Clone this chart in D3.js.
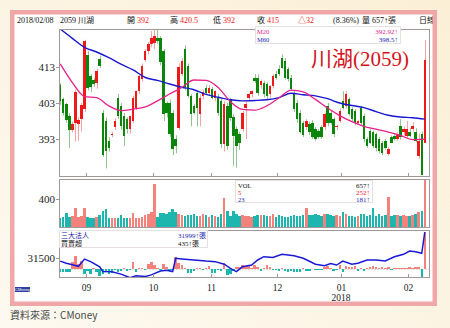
<!DOCTYPE html>
<html>
<head>
<meta charset="utf-8">
<script src="https://cdn.jsdelivr.net/npm/d3@7"></script>
<style>
  body { margin: 0; background: #fcf6e8; }
  svg { display: block; }
</style>
</head>
<body>
<svg id="chart" width="450" height="328"></svg>
<script>
(function () {

  // month labels on the x axis and the candle index where each month starts
  const monthLabels = ["09", "10", "11", "12", "01", "02"];
  const monthStart = [9, 31, 50, 72, 93, 115];
  const priceTicks = [393, 403, 413];
  const volTicks = [400];
  const chipTicks = [31500];

  // daily candles, 2017/08/21 .. 2018/02/08
  const opens = [408,404,402.8,399.5,395.5,397.4,397.2,398.5,401.3,
    416.5,410.5,409.5,408.6,415.3,400.3,398,392.4,394,396.2,
    404.5,402.2,399.4,398.5,395.7,398,401.7,406.3,409.6,415.1,
    417.4,419.3,419.8,421.2,421,417.4,403,403,400.3,393,
    396,411,418,413.3,405,402.2,405.9,399.9,405,407.3,
    405.9,406.8,404.5,404.5,403.6,391.5,402.2,404,399.2,395.7,
    394.3,395.7,401.7,404.5,405.4,410,410,408,408.6,408.2,
    405.4,407.7,411,412.4,415.6,414.7,412.4,410,405.9,403.1,
    400.3,397.5,396.2,397.1,397.5,395.7,395.2,396.2,396.2,402.2,
    400.3,398.5,396.2,398,403.6,402.2,404,401.3,400.8,397.5,
    401.7,399.4,392.9,395.2,394.8,394.3,392.9,392,392.5,388.8,
    393.4,393.8,393,396.6,394.8,393.8,395,395.7,394.8,388.3,394.3,392];
  const highs = [408.5,404.5,403,400.2,397.8,406.8,399,403,420.6,
    417.5,411,410,412.5,416.2,401,399,393.5,395,398.8,
    405.5,403,400.2,399,399.5,405,406.5,410.8,414,418,
    420,423,423.3,423.5,421.6,418,403.5,404,401,394,
    414,415.5,419,414,405.5,402.8,406.5,405.4,406.8,408,
    408,407.5,406.5,405.5,404.5,403.5,403,404.5,400,396.5,
    395,400.8,403.5,405.7,406.5,411,411,409.5,409.2,408.8,
    408,411,412,413.5,416.5,415.5,413,410.8,406.5,403.8,
    401,398,398.5,397.8,398.2,396.3,395.8,396.8,400.3,403,
    401,399,397,401.5,406.3,406.3,404.6,401.8,401.3,398.2,
    402.2,400,393.5,395.8,395.3,394.8,393.5,392.5,393,390.8,
    394,394.5,394.8,398.5,396.5,398,396,397.6,396,394.5,395,420.5];
  const lows = [402.5,399.5,397.5,390.5,394.8,392.3,392.5,395,400.5,
    406.5,406,407.5,407,412.8,388,384.8,389.5,393.5,395.5,
    398.5,395.5,391,394.5,394.5,397.5,401,405.5,409,414.5,
    416.5,418.5,418,419.5,413.5,398,399,393.5,388.5,389,
    395.5,410.5,406.5,404.5,396.5,399.8,396.5,396.5,404,405.5,
    405,404,403.5,399.5,390.5,389.5,390,398,385.5,385,
    390,395,393,403.5,404.5,408.5,405,407,404.5,404,
    404.5,407,409.5,410.5,412.5,409.5,409,406.5,400.5,397.5,
    394.5,393.5,395.5,394,393,392.5,393,393,395.5,396.5,
    397,393.5,395.5,397.5,401.2,401.5,399.5,397.8,396.8,397,
    396.8,392,390.5,391.5,390.5,389.5,389,388.5,390,388.3,
    392,392.5,392.5,392.8,394,393,393.5,395,392,387.5,383,392];
  const closes = [403.5,400.3,398.3,395.5,397.2,406.1,398.2,402.4,420.2,
    407.3,407.5,408.2,411.9,413.3,388.5,389.5,390.5,394.3,398,
    399.4,396.6,393.8,395.7,399.4,404.5,406.3,410.5,413.3,417.4,
    419.3,421.2,421.6,420.2,414.5,400,400.3,394.3,390.1,391,
    413.1,414.7,407.5,405,400,400.3,401.7,404.5,406,405.9,
    407.3,404.5,406.3,400.3,391.5,402.6,391,398.7,393.8,391.1,
    392,400.3,402.6,405.4,406.3,409.1,405.9,409.1,405.4,404.9,
    407.7,410.5,410,411,412.8,410,409.6,406.8,401.2,398.5,
    394.8,394,398,394.8,393.4,392.9,393.4,393.4,399.9,397.5,
    397.5,394.3,396.6,400.8,401.7,405.4,399.9,398.5,397.5,397.9,
    397.5,392.9,391.1,392,391.1,390.6,389.7,389.2,390.6,390.3,
    392,392.9,394.3,393.4,395.7,395.7,393.8,396.6,392.5,392.5,383,415];

  // daily volume (lots)
  const volumes = [143,150,212,156,160,271,156,160,281,
    156,143,143,150,175,235,262,133,133,133,
    140,185,133,133,133,212,133,143,156,175,
    189,225,603,156,212,212,189,216,262,225,
    189,179,160,179,179,189,160,170,189,179,
    156,179,160,150,200,419,240,170,230,200,
    160,180,160,170,150,165,175,185,175,160,
    170,200,150,180,165,155,150,170,180,170,
    160,175,280,180,175,200,175,165,200,190,
    180,160,175,170,220,190,170,165,150,160,
    190,200,165,175,280,170,190,160,180,430,
    165,175,180,160,175,170,160,175,200,220,240,657];

  // moving averages (candle index, price)
  const maIdx = [0,4,8,12,16,20,24,28,32,36,40,44,48,52,56,60,64,68,72,76,80,84,88,92,96,100,104,108,112,116,120];
  const ma20 = [413.9,408.7,404.8,404.5,402.2,400.9,401.3,401.9,403.6,405.5,407.3,409.4,409.3,407.3,403.4,401.2,
    401.0,402.2,404.4,406.6,406.1,404.0,401.6,399.5,397.8,396.5,395.7,394.9,394.0,392.8,392.92];
  const ma60 = [423.6,421,418.5,417.2,415.6,413.8,412.2,410.1,409.3,408.3,407.4,406.7,405.4,404.6,403.9,403.6,
    403.7,403.9,404.5,405.7,405.3,405.0,404.2,403.0,402.3,401.7,400.6,399.6,399.1,398.9,398.5];

  // three institutional investors: holdings line (lots) and daily net buy/sell
  const chipIdx = [0,2,4,6,8,10,13,14,17,20,23,25,28,30,33,35,37,38,40,44,48,51,54,56,58,60,63,65,67,70,
    73,77,80,84,87,89,91,93,96,98,101,104,107,110,113,115,117,119,120];
  const chipHold = [31440,31400,31370,31340,31480,31430,31330,31240,31237,31190,31120,31160,31145,31175,31250,
    31265,31240,31494,31483,31460,31440,31430,31380,31300,31237,31333,31365,31462,31525,31510,
    31571,31544,31494,31379,31350,31394,31365,31442,31379,31398,31462,31462,31442,31525,31571,31635,31621,31590,31999];
  const netBuy = [-35,-35,-30,-35,90,150,60,100,-60,
    -20,-50,10,-30,-80,-60,-20,-60,-40,-10,
    -30,-15,10,-20,-10,80,-30,15,20,-10,
    60,90,50,20,-10,60,30,-20,-10,140,
    70,50,20,-40,-45,-20,10,15,-10,20,
    40,-45,-40,-10,-15,70,-65,-60,-20,30,
    30,50,40,50,20,50,30,-25,15,55,
    30,-10,-5,-25,20,-20,-30,-25,-30,-35,
    -30,10,-20,-20,5,-10,-5,-10,30,40,
    10,-25,-10,55,-30,35,30,25,35,-20,
    10,-25,10,30,35,30,20,25,20,25,
    -10,15,20,20,15,20,25,10,30,25,-95,435];

  const serif = "'Liberation Serif','Noto Sans CJK TC',serif";
  const red = "#ee1a1a", green = "#0b860b";
  const upBar = "#f4827c", downBar = "#1cb6ae";
  const border = "#a39797";

  const svg = d3.select("#chart");

  // background + pink frame
  const defs = svg.append("defs");
  const grad = defs.append("linearGradient").attr("id", "bg")
    .attr("x1", "0").attr("y1", "1").attr("x2", "1").attr("y2", "0");
  grad.append("stop").attr("offset", "0").attr("stop-color", "#fdf9f0");
  grad.append("stop").attr("offset", "1").attr("stop-color", "#fbefd6");
  svg.append("rect").attr("width", 450).attr("height", 328).attr("fill", "url(#bg)");
  svg.append("rect")
    .attr("x", 12).attr("y", 12).attr("width", 423).attr("height", 292)
    .attr("fill", "#fff");

  const n = closes.length;
  const left = 59, right = 426;
  const x = d3.scaleBand().domain(d3.range(n)).range([left, right]).paddingInner(0.2);
  const cx = i => x(i) + x.bandwidth() / 2;
  const edge = i => x(i) - (x.step() - x.bandwidth()) / 2;

  const panels = {
    main: {top: 29, bottom: 177},
    vol: {top: 179, bottom: 228},
    chip: {top: 230, bottom: 278}
  };
  Object.keys(panels).forEach(k => {
    defs.append("clipPath").attr("id", "clip-" + k)
      .append("rect")
      .attr("x", left).attr("y", panels[k].top)
      .attr("width", 429 - left).attr("height", panels[k].bottom - panels[k].top);
  });

  /**
   * Price panel
   */
  const y = d3.scaleLinear().domain([382.4, 423.6]).range([panels.main.bottom, panels.main.top]);
  const gMain = svg.append("g").attr("clip-path", "url(#clip-main)");

  const candles = gMain.selectAll(".candle")
    .data(d3.range(n))
    .enter().append("g");
  candles.append("line")
    .attr("x1", i => Math.round(cx(i)) + 0.5).attr("x2", i => Math.round(cx(i)) + 0.5)
    .attr("y1", i => y(highs[i])).attr("y2", i => y(lows[i]))
    .attr("stroke", i => closes[i] >= opens[i] ? "#f5a3a3" : "#93c393")
    .attr("stroke-width", 1);
  candles.append("rect")
    .attr("x", i => x(i))
    .attr("width", x.bandwidth())
    .attr("y", i => y(Math.max(opens[i], closes[i])))
    .attr("height", i => Math.max(1, Math.abs(y(opens[i]) - y(closes[i]))))
    .attr("fill", i => closes[i] >= opens[i] ? red : green)
    .attr("shape-rendering", "crispEdges");

  const maLine = vals => d3.line()
    .x((d, k) => cx(maIdx[k]))
    .y(d => y(d))
    .curve(d3.curveMonotoneX)(vals);
  gMain.append("path").attr("d", maLine(ma60))
    .attr("fill", "none").attr("stroke", "#1818d0").attr("stroke-width", 1.4);
  gMain.append("path").attr("d", maLine(ma20))
    .attr("fill", "none").attr("stroke", "#e5208a").attr("stroke-width", 1.3);

  svg.append("text")
    .attr("x", 311).attr("y", 66)
    .style("font-family", serif).style("font-size", "21px")
    .attr("fill", "#d3141c")
    .text("川湖(2059)");

  /**
   * Volume panel
   */
  const yVol = d3.scaleLinear().domain([0, 676]).range([panels.vol.bottom, panels.vol.top]);
  svg.append("g").attr("clip-path", "url(#clip-vol)")
    .selectAll("rect")
    .data(volumes)
    .enter().append("rect")
    .attr("x", (d, i) => x(i))
    .attr("width", x.bandwidth())
    .attr("y", d => yVol(d))
    .attr("height", d => yVol(0) - yVol(d))
    .attr("fill", (d, i) => closes[i] >= opens[i] ? upBar : downBar)
    .attr("shape-rendering", "crispEdges");

  /**
   * Institutional investors panel
   */
  const yNet = d3.scaleLinear().domain([0, 435]).range([269.3, 232]);
  const yHold = d3.scaleLinear().domain([31500, 32000]).range([258, 232]);
  const gChip = svg.append("g").attr("clip-path", "url(#clip-chip)");
  gChip.append("line")
    .attr("x1", left).attr("x2", 429)
    .attr("y1", yNet(0)).attr("y2", yNet(0))
    .attr("stroke", "#d8d8d8").attr("stroke-dasharray", "2,1");
  gChip.selectAll(".net")
    .data(netBuy)
    .enter().append("rect")
    .attr("x", (d, i) => x(i))
    .attr("width", x.bandwidth())
    .attr("y", d => Math.min(yNet(d), yNet(0)))
    .attr("height", d => Math.abs(yNet(d) - yNet(0)))
    .attr("fill", d => d >= 0 ? upBar : downBar)
    .attr("shape-rendering", "crispEdges");
  gChip.append("path")
    .attr("d", d3.line().x((d, k) => cx(chipIdx[k])).y(d => yHold(d))(chipHold))
    .attr("fill", "none").attr("stroke", "#1a1ad6").attr("stroke-width", 1.5);

  // panel borders
  Object.keys(panels).forEach(k => {
    svg.append("rect")
      .attr("x", left + 0.5).attr("y", panels[k].top + 0.5)
      .attr("width", 429 - left).attr("height", panels[k].bottom - panels[k].top - 1)
      .attr("fill", "none").attr("stroke", border);
  });

  // y labels
  const yLabel = (vals, scale) => {
    vals.forEach(v => {
      svg.append("line")
        .attr("x1", 56).attr("x2", left).attr("y1", Math.round(scale(v)) + 0.5).attr("y2", Math.round(scale(v)) + 0.5)
        .attr("stroke", border);
      svg.append("text")
        .attr("x", 55).attr("y", scale(v)).attr("dy", "0.35em")
        .attr("text-anchor", "end")
        .style("font-family", serif).style("font-size", "11px")
        .attr("fill", "#222")
        .text(v);
    });
  };
  yLabel(priceTicks, y);
  yLabel(volTicks, yVol);
  yLabel(chipTicks, yHold);

  // month ticks and labels
  monthStart.forEach((s, k) => {
    const xx = Math.round(edge(s)) + 0.5;
    [panels.main.bottom, panels.chip.bottom].forEach(b => {
      svg.append("line").attr("x1", xx).attr("x2", xx).attr("y1", b - 4).attr("y2", b)
        .attr("stroke", border);
    });
    svg.append("text")
      .attr("x", xx).attr("y", 290.5)
      .attr("text-anchor", "middle")
      .style("font-family", serif).style("font-size", "9.5px")
      .attr("fill", "#222")
      .text(monthLabels[k]);
  });
  svg.append("text")
    .attr("x", Math.round(edge(monthStart[4]))).attr("y", 300.5)
    .attr("text-anchor", "middle")
    .style("font-family", serif).style("font-size", "9.5px")
    .attr("fill", "#222")
    .text("2018");

  // header row
  const small = (tx, ty, str, fill, anchor) => svg.append("text")
    .attr("x", tx).attr("y", ty)
    .attr("text-anchor", anchor || "start")
    .style("font-family", serif).style("font-size", "8px")
    .attr("fill", fill || "#111")
    .text(str);
  small(17, 23, "2018/02/08");
  small(60, 23, "2059 川湖");
  small(127, 23, "開");
  small(137, 23, "392", red);
  small(170, 23, "高");
  small(180, 23, "420.5", red);
  small(213, 23, "低");
  small(223, 23, "392", red);
  small(257, 23, "收");
  small(267, 23, "415", red);
  small(298, 23, "△32", red);
  small(333, 23, "(8.36%)");
  small(362, 23, "量 657↑張");
  small(419, 23, "日線");

  // legend boxes
  const box = (bx, by, bw, bh) => svg.append("rect")
    .attr("x", bx + 0.5).attr("y", by + 0.5).attr("width", bw).attr("height", bh)
    .attr("fill", "#fff").attr("stroke", "#e6e0e0");
  box(255, 26, 145, 17);
  small(257, 33.5, "M20", "#e0208a").style("font-size", "6.5px");
  small(257, 41.5, "M60", "#2222b8").style("font-size", "6.5px");
  small(398, 33.5, "392.92↑", "#e0208a", "end").style("font-size", "7px");
  small(398, 41.5, "398.5↑", "#2222b8", "end").style("font-size", "7px");

  box(235, 180, 137, 22);
  small(238, 187.5, "VOL").style("font-size", "6.5px");
  small(238, 194.5, "5", red).style("font-size", "6.5px");
  small(238, 201.5, "23", "#2222b8").style("font-size", "6.5px");
  small(370, 187.5, "657↑", "#111", "end").style("font-size", "7px");
  small(370, 194.5, "252↑", red, "end").style("font-size", "7px");
  small(370, 201.5, "181↑", "#2222b8", "end").style("font-size", "7px");

  box(59, 230, 148, 17);
  small(61, 237.5, "三大法人", "#2222a8").style("font-size", "7px");
  small(61, 246, "買賣超").style("font-size", "7px");
  small(178, 237.5, "31999↑張", "#2222a8").style("font-size", "7px");
  small(178, 246, "435↑張").style("font-size", "7px");

  // tiny logo
  svg.append("rect").attr("x", 15).attr("y", 287).attr("width", 15).attr("height", 5).attr("fill", "#2b3f9e");
  svg.append("text").attr("x", 22.5).attr("y", 291).attr("text-anchor", "middle")
    .style("font-family", "'Liberation Sans',sans-serif").style("font-size", "4px")
    .attr("fill", "#fff").text("CMoney");

  // pink frame on top
  svg.append("rect")
    .attr("x", 12.25).attr("y", 12.25).attr("width", 422.5).attr("height", 291.5)
    .attr("fill", "none").attr("stroke", "#efa7a7").attr("stroke-width", 4.5);

  svg.append("text")
    .attr("x", 10).attr("y", 319)
    .style("font-family", "'Noto Sans CJK TC','Liberation Sans',sans-serif").style("font-size", "10px")
    .attr("fill", "#4a4a4a")
    .text("資料來源：CMoney");

})();
</script>
</body>
</html>
